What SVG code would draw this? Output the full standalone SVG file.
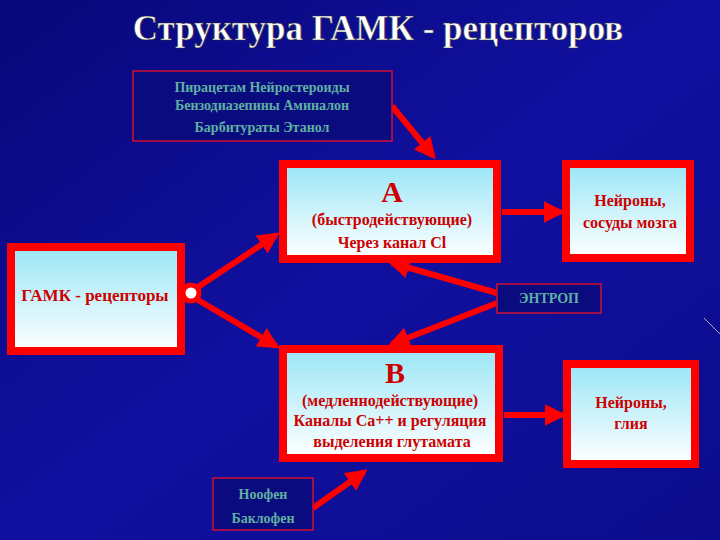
<svg xmlns="http://www.w3.org/2000/svg" width="720" height="540" viewBox="0 0 720 540">
<defs>
<linearGradient id="bg" x1="0" y1="0" x2="1" y2="1"><stop offset="0" stop-color="#08087a"/><stop offset="0.5" stop-color="#1010a0"/><stop offset="1" stop-color="#0c0c8c"/></linearGradient>
<linearGradient id="cy" x1="0" y1="0" x2="0" y2="1"><stop offset="0" stop-color="#9ae6f6"/><stop offset="1" stop-color="#ffffff"/></linearGradient>
<marker id="ah" viewBox="0 0 10 10" refX="8" refY="5" markerWidth="3.6" markerHeight="3.6" orient="auto"><path d="M0,0 L10,5 L0,10 z" fill="#ff0000"/></marker>
<style>
.red{fill:url(#cy);stroke:#ff0000;stroke-width:8}
.dk{fill:#0b0b80;stroke:#d01030;stroke-width:1.5}
.rt{font-family:"Liberation Serif",serif;font-weight:bold;fill:#cc0000;text-anchor:middle}
.gt{font-family:"Liberation Serif",serif;font-weight:bold;fill:#5fb0a0;text-anchor:middle;font-size:14px}
.c{stroke:#ff0000;stroke-width:6;fill:none;marker-end:url(#ah)}
</style>
</defs>
<rect width="720" height="540" fill="url(#bg)"/>
<path d="M704,318 L720,334" stroke="#aab" stroke-width="1"/>
<text x="378" y="40" font-family="Liberation Serif,serif" font-size="35" font-weight="bold" fill="#ffffff" stroke="#333" stroke-width="0.6" text-anchor="middle">Структура ГАМК - рецепторов</text>
<g id="connectors">
<line class="c" x1="392" y1="106" x2="433" y2="156"/>
<line class="c" x1="198" y1="287" x2="276" y2="235"/>
<line class="c" x1="198" y1="300" x2="276" y2="346"/>
<line class="c" x1="497" y1="293" x2="392" y2="263"/>
<line class="c" x1="497" y1="303" x2="392" y2="344"/>
<line class="c" x1="502" y1="212" x2="561" y2="212"/>
<line class="c" x1="504" y1="415" x2="562" y2="415"/>
<line class="c" x1="313" y1="508" x2="364" y2="472"/>
</g>
<g id="mods"><rect class="dk" x="133" y="71" width="259" height="70"/>
<text class="gt" x="262" y="92">Пирацетам  Нейростероиды</text>
<text class="gt" x="262" y="110">Бензодиазепины Аминалон</text>
<text class="gt" x="262" y="132">Барбитураты   Этанол</text></g>
<g id="A"><rect class="red" x="283" y="164" width="214" height="95"/>
<text class="rt" x="392" y="202" font-size="30">А</text>
<text class="rt" x="392" y="225" font-size="16">(быстродействующие)</text>
<text class="rt" x="392" y="248" font-size="16">Через канал Cl</text></g>
<g id="n1"><rect class="red" x="566" y="164" width="124" height="94"/>
<text class="rt" x="630" y="206" font-size="16">Нейроны,</text>
<text class="rt" x="630" y="228" font-size="16">сосуды мозга</text></g>
<g id="gaba"><rect class="red" x="11" y="247" width="170" height="104"/>
<text class="rt" x="95" y="301" font-size="17">ГАМК - рецепторы</text>
<circle cx="191" cy="293" r="8" fill="#fff" stroke="#ff0000" stroke-width="5"/></g>
<g id="entrop"><rect class="dk" x="497" y="284" width="104" height="29"/>
<text class="gt" x="549" y="303">ЭНТРОП</text></g>
<g id="B"><rect class="red" x="283" y="349" width="216" height="109"/>
<text class="rt" x="395" y="383" font-size="30">В</text>
<text class="rt" x="390" y="406" font-size="16">(медленнодействующие)</text>
<text class="rt" x="390" y="426" font-size="16">Каналы Са++ и регуляция</text>
<text class="rt" x="392" y="447" font-size="16">выделения глутамата</text></g>
<g id="n2"><rect class="red" x="567" y="364" width="128" height="100"/>
<text class="rt" x="631" y="408" font-size="16">Нейроны,</text>
<text class="rt" x="631" y="429" font-size="16">глия</text></g>
<g id="noofen"><rect class="dk" x="213" y="478" width="100" height="52"/>
<text class="gt" x="263" y="499">Ноофен</text>
<text class="gt" x="263" y="523">Баклофен</text></g>
</svg>
